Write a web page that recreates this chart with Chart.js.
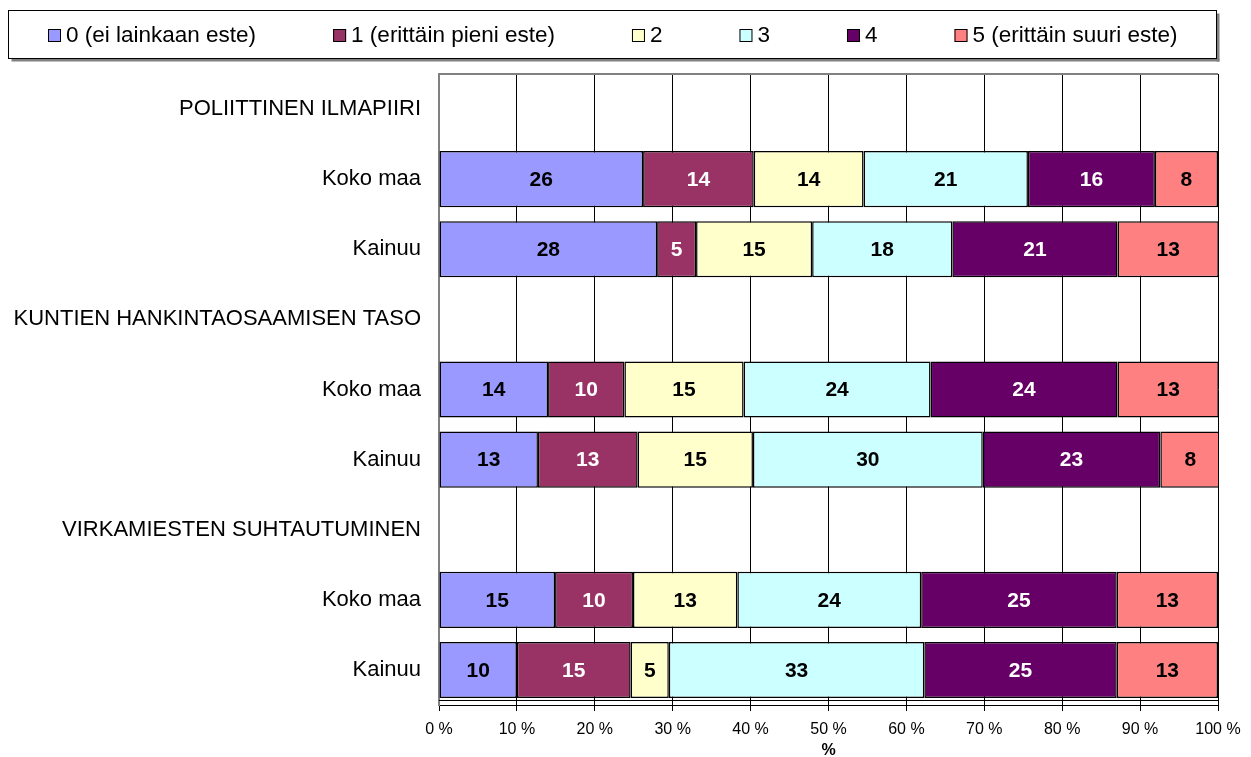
<!DOCTYPE html>
<html>
<head>
<meta charset="utf-8">
<script src="https://cdn.jsdelivr.net/npm/chart.js@4/dist/chart.umd.min.js"></script>
<style>
  html, body { margin: 0; padding: 0; background: #ffffff; }
  #wrap { width: 1251px; height: 757px; position: relative; }
</style>
</head>
<body>
<div id="wrap"><canvas id="c" width="1251" height="757"></canvas></div>
<script>
// ---- data ----
const categories = [
  "POLIITTINEN ILMAPIIRI", "Koko maa", "Kainuu",
  "KUNTIEN HANKINTAOSAAMISEN TASO", "Koko maa", "Kainuu",
  "VIRKAMIESTEN SUHTAUTUMINEN", "Koko maa", "Kainuu"
];
const seriesNames = [
  "0 (ei lainkaan este)", "1 (erittäin pieni este)", "2", "3", "4", "5 (erittäin suuri este)"
];
const s0 = [null, 26.2, 28.0, null, 14.0, 12.7, null, 14.9, 10.0];
const s1 = [null, 14.2,  5.0, null,  9.8, 12.8, null, 10.0, 14.6];
const s2 = [null, 14.1, 14.9, null, 15.3, 14.8, null, 13.4,  4.9];
const s3 = [null, 21.1, 18.0, null, 24.0, 29.5, null, 23.6, 32.8];
const s4 = [null, 16.3, 21.2, null, 24.0, 22.8, null, 25.1, 24.7];
const s5 = [null,  8.1, 13.0, null, 13.0,  7.7, null, 13.0, 13.0];
const xTicks = [0, 10, 20, 30, 40, 50, 60, 70, 80, 90, 100];
const xTitle = "%";

const colors = ["#9999FF", "#993366", "#FFFFCC", "#CCFFFF", "#660066", "#FF8080"];
const labelColors = ["#000000", "#ffffff", "#000000", "#000000", "#ffffff", "#000000"];
const FONT = "'Liberation Sans', Arial, Helvetica, sans-serif";

const seriesData = [s0, s1, s2, s3, s4, s5];
const datasets = seriesData.map((d, i) => ({
  label: seriesNames[i],
  data: d,
  backgroundColor: colors[i],
  borderColor: "#000000",
  borderWidth: 1.5,
  borderSkipped: false,
  categoryPercentage: 1.0,
  barPercentage: 0.8
}));

// value labels inside bars
const valueLabels = {
  id: 'valueLabels',
  afterDatasetsDraw(chart) {
    const ctx = chart.ctx;
    ctx.save();
    ctx.font = "bold 21px " + FONT;
    ctx.textAlign = 'center';
    ctx.textBaseline = 'middle';
    chart.data.datasets.forEach((ds, di) => {
      const meta = chart.getDatasetMeta(di);
      meta.data.forEach((el, i) => {
        const v = ds.data[i];
        if (v === null || v === undefined) return;
        const cx = (el.x + el.base) / 2;
        ctx.fillStyle = labelColors[di];
        ctx.fillText(String(Math.round(v)), cx, el.y + 1);
      });
    });
    ctx.restore();
  }
};

// plot frame extras: gray top border and the second bottom line
const frame = {
  id: 'frame',
  afterDraw(chart) {
    const {ctx, chartArea: a} = chart;
    ctx.save();
    ctx.strokeStyle = '#808080';
    ctx.lineWidth = 2;
    ctx.beginPath();
    ctx.moveTo(a.left - 1, a.top);
    ctx.lineTo(a.right, a.top);
    ctx.stroke();
    ctx.strokeStyle = '#000000';
    ctx.lineWidth = 1;
    ctx.beginPath();
    ctx.moveTo(a.left, a.bottom - 4.5);
    ctx.lineTo(a.right, a.bottom - 4.5);
    ctx.stroke();
    ctx.restore();
  }
};

// boxed legend
const boxLegend = {
  id: 'boxLegend',
  afterDraw(chart) {
    const ctx = chart.ctx;
    const L = 8.5, T = 10.5, R = 1216.5, B = 58.5;
    ctx.save();
    ctx.fillStyle = '#808080';
    ctx.fillRect(L + 3, B, R - L, 3);
    ctx.fillRect(R, T + 3, 3, B - T);
    ctx.fillStyle = '#ffffff';
    ctx.fillRect(L, T, R - L, B - T);
    ctx.strokeStyle = '#000000';
    ctx.lineWidth = 1;
    ctx.strokeRect(L, T, R - L, B - T);
    ctx.font = "22.5px " + FONT;
    ctx.textBaseline = 'middle';
    ctx.textAlign = 'left';
    const box = 13, gapBT = 5, gap = 77;
    const items = chart.data.datasets.map(ds => ({text: ds.label, color: ds.backgroundColor, w: ctx.measureText(ds.label).width}));
    let total = items.reduce((s, it) => s + box + gapBT + it.w, 0) + gap * (items.length - 1);
    let x = Math.round((L + R) / 2 - total / 2);
    const cy = (T + B) / 2 + 1;
    items.forEach(it => {
      ctx.fillStyle = it.color;
      ctx.fillRect(x, cy - box / 2, box, box);
      ctx.strokeStyle = '#000000';
      ctx.strokeRect(x + 0.5, cy - box / 2 + 0.5, box - 1, box - 1);
      ctx.fillStyle = '#000000';
      ctx.fillText(it.text, x + box + gapBT, cy);
      x += box + gapBT + it.w + gap;
    });
    ctx.restore();
  }
};

new Chart(document.getElementById('c'), {
  type: 'bar',
  data: { labels: categories, datasets: datasets },
  options: {
    indexAxis: 'y',
    responsive: false,
    animation: false,
    layout: { padding: { top: 74, right: 33, bottom: 0, left: 0 } },
    plugins: {
      legend: { display: false },
      title: { display: false },
      tooltip: { enabled: false }
    },
    scales: {
      x: {
        stacked: true,
        min: 0,
        max: 100,
        afterBuildTicks(scale) { scale.ticks = xTicks.map(v => ({value: v})); },
        afterFit(scale) { scale.height = 52; },
        ticks: {
          callback: v => v + ' %',
          color: '#000000',
          font: { family: FONT, size: 16 },
          padding: 9,
          maxRotation: 0,
          autoSkip: false
        },
        grid: { color: '#000000', lineWidth: 1, tickLength: 6, drawOnChartArea: true },
        border: { display: true, color: '#000000', width: 1 },
        title: {
          display: true,
          text: xTitle,
          color: '#000000',
          font: { family: FONT, size: 16, weight: 'bold', lineHeight: 0.8 },
          padding: { top: 0, bottom: 0 }
        }
      },
      y: {
        stacked: true,
        afterFit(scale) { scale.width = 439; },
        ticks: {
          color: '#000000',
          font: { family: FONT, size: 22 },
          padding: 18,
          autoSkip: false
        },
        grid: { display: false, drawTicks: false },
        border: { display: true, color: '#808080', width: 2 }
      }
    }
  },
  plugins: [valueLabels, frame, boxLegend]
});
</script>
</body>
</html>
